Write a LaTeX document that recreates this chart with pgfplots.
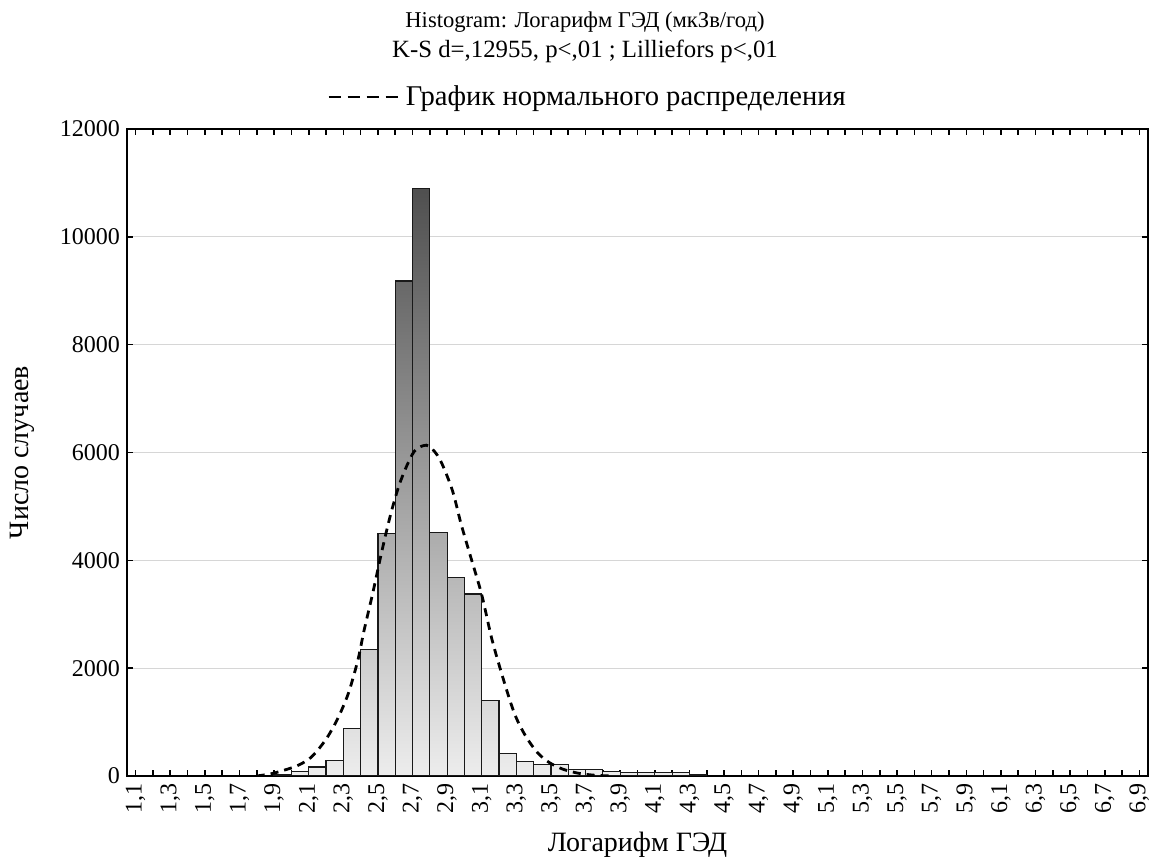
\documentclass[border=0pt]{standalone}
\usepackage{fontspec}
\setmainfont{Liberation Serif}
\usepackage{pgfplots}
\usepackage{pgfplotstable}
\pgfplotsset{compat=1.18}

% histogram: left bin edge, count (bin width 0.1); last row closes the last bin
\pgfplotstableread{
x y
1.9 25
2.0 80
2.1 167
2.2 290
2.3 876
2.4 2346
2.5 4500
2.6 9180
2.7 10900
2.8 4520
2.9 3680
3.0 3375
3.1 1400
3.2 420
3.3 272
3.4 216
3.5 210
3.6 117
3.7 123
3.8 86
3.9 68
4.0 68
4.1 65
4.2 62
4.3 35
4.4 0
}\histdata

% expected normal curve
\pgfplotstableread{
x y
1.80 0
1.88 40
1.95 100
2.03 185
2.10 310
2.15 470
2.21 730
2.27 1080
2.33 1540
2.385 2160
2.42 2700
2.47 3390
2.52 4130
2.57 4810
2.62 5370
2.665 5740
2.71 6020
2.76 6125
2.80 6110
2.86 5860
2.93 5300
2.98 4680
3.04 4020
3.10 3360
3.16 2520
3.23 1740
3.29 1150
3.35 760
3.42 440
3.49 250
3.57 125
3.66 50
3.75 15
3.85 0
}\normdata

\begin{document}
\begin{tikzpicture}
\begin{axis}[
  at={(0pt,0pt)}, anchor=south west,
  scale only axis, width=510.5pt, height=323.5pt,
  xmin=1.05, xmax=6.95, ymin=0, ymax=12000,
  axis line style={black, line width=1.1pt},
  tick align=inside,
  major tick length=3pt, minor tick length=3pt,
  every tick/.style={black, line width=0.8pt},
  xtick={1.1,1.3,1.5,1.7,1.9,2.1,2.3,2.5,2.7,2.9,3.1,3.3,3.5,3.7,3.9,4.1,4.3,4.5,4.7,4.9,5.1,5.3,5.5,5.7,5.9,6.1,6.3,6.5,6.7,6.9},
  xticklabels={{1,1},{1,3},{1,5},{1,7},{1,9},{2,1},{2,3},{2,5},{2,7},{2,9},{3,1},{3,3},{3,5},{3,7},{3,9},{4,1},{4,3},{4,5},{4,7},{4,9},{5,1},{5,3},{5,5},{5,7},{5,9},{6,1},{6,3},{6,5},{6,7},{6,9}},
  minor xtick={1.2,1.4,1.6,1.8,2.0,2.2,2.4,2.6,2.8,3.0,3.2,3.4,3.6,3.8,4.0,4.2,4.4,4.6,4.8,5.0,5.2,5.4,5.6,5.8,6.0,6.2,6.4,6.6,6.8},
  ytick={0,2000,4000,6000,8000,10000,12000},
  scaled y ticks=false,
  /pgf/number format/1000 sep={},
  /pgf/number format/assume math mode=true,
  xticklabel style={rotate=90, anchor=east, font=\fontsize{12}{13}\selectfont},
  yticklabel style={font=\fontsize{12}{13}\selectfont},
  ymajorgrids,
  major grid style={black!16, line width=0.5pt},
  xlabel={Логарифм ГЭД},
  ylabel={Число случаев},
  xlabel style={at={(axis description cs:0.5,-0.1066)}, anchor=center, font=\fontsize{14}{16}\selectfont},
  ylabel style={at={(axis description cs:-0.1028,0.5)}, anchor=center, font=\fontsize{14}{16}\selectfont},
  legend style={at={(axis description cs:0.452,1.0495)}, anchor=center, draw=none, fill=none, inner sep=0pt, font=\fontsize{14.3}{16}\selectfont},
  legend image code/.code={\draw[#1, dash pattern=on 6pt off 3.5pt] (0pt,0pt) -- (36pt,0pt);},
]
\addplot[const plot, draw=none, top color=black!69, bottom color=black!7, forget plot]
  table[x=x, y=y] {\histdata} \closedcycle;
\addplot[ybar interval, draw=black!90, fill=none, line width=0.6pt, forget plot]
  table[x=x, y=y] {\histdata};
\addplot[smooth, black, line width=1.4pt, dash pattern=on 4pt off 3pt]
  table[x=x, y=y] {\normdata};
\addlegendentry{График нормального распределения}
\end{axis}
\node[font=\fontsize{11.3}{12}\selectfont] at (229pt,377pt) {Histogram: Логарифм ГЭД (мкЗв/год)};
\node[font=\fontsize{12.4}{13}\selectfont] at (229pt,362.5pt) {K-S d=,12955, p<,01 ; Lilliefors p<,01};
\pgfresetboundingbox
\useasboundingbox (-63.5pt,-45pt) rectangle (511.5pt,388pt);
\end{tikzpicture}
\end{document}
